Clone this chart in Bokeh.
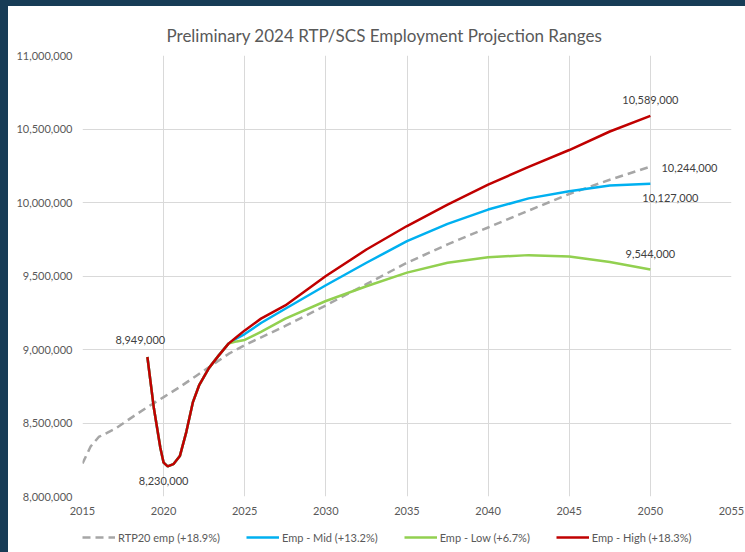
from bokeh.plotting import figure
from bokeh.layouts import column
from bokeh.models import (Range1d, SingleIntervalTicker, NumeralTickFormatter, Legend, LegendItem)
from bokeh.core.properties import value
from bokeh.embed import file_html
from bokeh.resources import INLINE

# ---- data ----
title_text = "Preliminary 2024 RTP/SCS Employment Projection Ranges"

rtp_years = [2015, 2015.5, 2016, 2017, 2018, 2019, 2020, 2021, 2022, 2023, 2024, 2025,
             2027.5, 2030, 2032.5, 2035, 2037.5, 2040, 2042.5, 2045, 2047.5, 2050]
rtp_vals = [8225000, 8340000, 8405000, 8460000, 8535000, 8608000, 8676000, 8745000, 8820000,
            8895000, 8970000, 9030000, 9160000, 9300000, 9445000, 9590000, 9715000, 9830000,
            9945000, 10058000, 10155000, 10244000]

early_years = [2019, 2019.4, 2019.8, 2020, 2020.25, 2020.6, 2021, 2021.4, 2021.8, 2022.2,
               2022.8, 2023.4, 2024]
early_vals = [8949000, 8600000, 8330000, 8230000, 8205000, 8220000, 8275000, 8440000, 8640000,
              8760000, 8875000, 8960000, 9040000]

proj_years = [2024.5, 2025, 2026, 2027.5, 2030, 2032.5, 2035, 2037.5, 2040, 2042.5, 2045,
              2047.5, 2050]
mid_vals = [9075000, 9105000, 9180000, 9277000, 9437000, 9590000, 9737000, 9855000, 9952000,
            10028000, 10076000, 10115000, 10127000]
low_vals = [9055000, 9065000, 9120000, 9210000, 9330000, 9430000, 9523000, 9590000, 9628000,
            9642000, 9632000, 9595000, 9544000]
high_vals = [9085000, 9130000, 9210000, 9300000, 9500000, 9680000, 9840000, 9985000, 10122000,
             10242000, 10357000, 10483000, 10589000]

series_names = ["RTP20 emp (+18.9%)", "Emp - Mid (+13.2%)", "Emp - Low (+6.7%)", "Emp - High (+18.3%)"]

x_start, x_end, x_step = 2015, 2055, 5
y_start, y_end, y_step = 8000000, 11000000, 500000

# ---- styles ----
FONT = "Lato"
C_GRAY, C_BLUE, C_GREEN, C_RED = "#a6a6a6", "#00b0f0", "#92d050", "#c00000"
TXT = "#595959"
styles = [dict(line_color=C_GRAY, line_width=2.5, line_dash="8 5"),
          dict(line_color=C_BLUE, line_width=2.5),
          dict(line_color=C_GREEN, line_width=2.5),
          dict(line_color=C_RED, line_width=2.5)]

x_full = early_years + proj_years
series = [(rtp_years, rtp_vals), (x_full, early_vals + mid_vals),
          (x_full, early_vals + low_vals), (x_full, early_vals + high_vals)]

p = figure(width=737, height=516, output_backend="svg", toolbar_location=None,
           x_range=Range1d(x_start, x_end), y_range=Range1d(y_start, y_end),
           min_border_left=74, min_border_right=14, min_border_top=49, min_border_bottom=26)

p.title.text = title_text
p.title.align = "left"
p.title.offset = 84
p.title.standoff = 20
p.title.text_font = FONT
p.title.text_font_size = "17px"
p.title.text_font_style = "normal"
p.title.text_color = TXT

p.outline_line_color = None
p.background_fill_color = "white"
p.border_fill_color = "white"

p.xaxis.ticker = SingleIntervalTicker(interval=x_step)
p.yaxis.ticker = SingleIntervalTicker(interval=y_step)
p.yaxis.formatter = NumeralTickFormatter(format="0,0")
for ax in (p.xaxis[0], p.yaxis[0]):
    ax.axis_line_color = None
    ax.major_tick_line_color = None
    ax.minor_tick_line_color = None
    ax.major_tick_out = 0
    ax.minor_tick_out = 0
    ax.major_label_text_font = FONT
    ax.major_label_text_font_size = "11px"
    ax.major_label_text_color = TXT
p.xaxis.major_label_standoff = 10
p.yaxis.major_label_standoff = 10
p.xgrid.grid_line_color = "#d9d9d9"
p.ygrid.grid_line_color = "#d9d9d9"

for (xs, ys), s in zip(series, styles):
    p.line(xs, ys, **s)

def lab(x, y, dx, dy, align="center"):
    p.text(x=[x], y=[y], text=[f"{y:,}"], x_offset=dx, y_offset=dy, text_align=align,
           text_baseline="middle", text_font=value(FONT), text_font_size="11px",
           text_color="#404040")

lab(early_years[0], early_vals[0], -7, -17)
lab(early_years[3], early_vals[3], 0, 18)
lab(proj_years[-1], high_vals[-1], 0, -16)
lab(rtp_years[-1], rtp_vals[-1], 11, 1, "left")
lab(proj_years[-1], mid_vals[-1], 20, 14)
lab(proj_years[-1], low_vals[-1], 0, -16)

# ---- legend strip (small figure below the chart; its lines lie outside its ranges) ----
leg = figure(width=737, height=30, output_backend="svg", toolbar_location=None,
             x_axis_type=None, y_axis_type=None,
             x_range=Range1d(0, 1), y_range=Range1d(0, 1),
             min_border_left=74, min_border_right=14, min_border_top=0, min_border_bottom=0)
leg.grid.visible = False
leg.outline_line_color = None
leg.border_fill_color = None
leg.background_fill_color = None
leg_renderers = [leg.line(xs, ys, **s) for (xs, ys), s in zip(series, styles)]
legend = Legend(items=[LegendItem(label=n, renderers=[r]) for n, r in zip(series_names, leg_renderers)],
                orientation="horizontal", location=(0, 7),
                label_text_font=FONT, label_text_font_size="11px", label_text_color=TXT,
                glyph_width=33, glyph_height=16, label_standoff=3, spacing=26,
                border_line_color=None, background_fill_alpha=0, padding=0, margin=0)
leg.add_layout(legend, "center")

layout = column(p, leg, spacing=0, styles={"background-color": "white"})

html = file_html(layout, INLINE)
html = html.replace("</head>",
                    "<style>html,body{margin:0;padding:0;}body{background-color:#173c56;"
                    "padding:6px 0 0 8px;box-sizing:border-box;overflow:hidden;}</style></head>", 1)
open("out.html", "w").write(html)
